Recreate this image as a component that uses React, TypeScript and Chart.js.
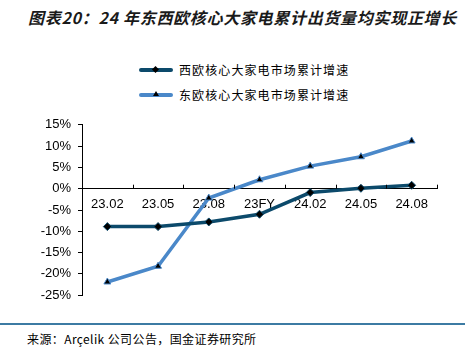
import React, { useEffect, useRef } from "react";
import { Chart, registerables } from "chart.js";

Chart.register(...registerables);

const categories = ["23.02", "23.05", "23.08", "23FY", "24.02", "24.05", "24.08"];
const westEurope = [-8.9, -8.9, -7.8, -6.0, -0.9, 0.1, 0.8];
const eastEurope = [-21.9, -18.2, -2.2, 2.1, 5.3, 7.5, 11.2];
const seriesNames = ["西欧核心大家电市场累计增速", "东欧核心大家电市场累计增速"];
const titleText = "图表20：24 年东西欧核心大家电累计出货量均实现正增长";
const sourceText = "来源：Arçelik 公司公告，国金证券研究所";

const WEST_COLOR = "#0C4A6B";
const EAST_COLOR = "#4A88C9";

const upTicksPlugin = {
  id: "upTicks",
  afterDraw(chart: any) {
    const x = chart.scales.x;
    const y = chart.scales.y;
    const ctx = chart.ctx;
    const zeroY = y.getPixelForValue(0);
    const n = categories.length;
    const step = (x.right - x.left) / n;
    ctx.save();
    ctx.strokeStyle = "#000";
    ctx.lineWidth = 1;
    for (let i = 1; i <= n; i++) {
      const px = Math.round(x.left + step * i) + 0.5;
      ctx.beginPath();
      ctx.moveTo(px, zeroY);
      ctx.lineTo(px, zeroY - 4);
      ctx.stroke();
    }
    ctx.restore();
  },
};

function LegendRow({ color, label, marker }: { color: string; label: string; marker: "diamond" | "triangle" }) {
  return (
    <div style={{ display: "flex", alignItems: "center", height: 25 }}>
      <div style={{ position: "relative", width: 34, height: 4, background: color, borderRadius: 2 }}>
        {marker === "diamond" ? (
          <div style={{ position: "absolute", left: 14, top: -1, width: 5, height: 5, background: "#000", transform: "rotate(45deg)" }} />
        ) : (
          <div style={{ position: "absolute", left: 14, top: -2, width: 0, height: 0, borderLeft: "3px solid transparent", borderRight: "3px solid transparent", borderBottom: "5px solid #000" }} />
        )}
      </div>
      <span style={{ marginLeft: 6, fontSize: 12, letterSpacing: 1.1, color: "#000", fontFamily: "'Noto Sans CJK SC', sans-serif" }}>{label}</span>
    </div>
  );
}

export default function App() {
  const canvasRef = useRef<HTMLCanvasElement | null>(null);

  useEffect(() => {
    if (!canvasRef.current) return;
    const chart = new Chart(canvasRef.current, {
      type: "line",
      data: {
        labels: categories,
        datasets: [
          {
            label: seriesNames[0],
            data: westEurope,
            borderColor: WEST_COLOR,
            backgroundColor: "#000",
            borderWidth: 3.5,
            pointStyle: "rectRot",
            pointRadius: 4,
            pointBackgroundColor: "#000",
            pointBorderColor: WEST_COLOR,
            pointBorderWidth: 1,
            tension: 0,
          },
          {
            label: seriesNames[1],
            data: eastEurope,
            borderColor: EAST_COLOR,
            backgroundColor: "#000",
            borderWidth: 3.5,
            pointStyle: "triangle",
            pointRadius: 4,
            pointBackgroundColor: "#000",
            pointBorderColor: EAST_COLOR,
            pointBorderWidth: 1,
            tension: 0,
          },
        ],
      },
      options: {
        animation: false,
        responsive: false,
        maintainAspectRatio: false,
        layout: { padding: { top: 13, bottom: 12, right: 37, left: 0 } },
        plugins: { legend: { display: false }, tooltip: { enabled: false } },
        scales: {
          x: {
            type: "category",
            position: { y: 0 } as any,
            offset: true,
            grid: { display: false, drawOnChartArea: false, drawTicks: false },
            border: { display: true, color: "#000", width: 1 },
            ticks: {
              padding: 8,
              color: "#000",
              font: { family: "'Liberation Sans', Arial, sans-serif", size: 13 },
              maxRotation: 0,
            },
          },
          y: {
            min: -25,
            max: 15,
            afterFit(scale: any) {
              scale.width = 82;
            },
            grid: { drawOnChartArea: false, drawTicks: true, tickLength: 4, color: "#000" },
            border: { display: true, color: "#000", width: 1 },
            ticks: {
              stepSize: 5,
              padding: 7,
              color: "#000",
              font: { family: "'Liberation Sans', Arial, sans-serif", size: 13 },
              callback: (v: any) => `${v}%`,
            },
          },
        },
      },
      plugins: [upTicksPlugin],
    });
    return () => chart.destroy();
  }, []);

  return (
    <div style={{ position: "absolute", left: 0, top: 0, width: 474, height: 353, background: "#fff", overflow: "hidden" }}>
      <div
        style={{
          position: "absolute",
          left: 28,
          top: 6,
          fontSize: 16,
          fontWeight: "bold",
          fontStyle: "italic",
          letterSpacing: 0.7,
          whiteSpace: "nowrap",
          color: "#1a1a1a",
          fontFamily: "'Noto Sans CJK SC', sans-serif",
          lineHeight: "22px",
        }}
      >
        {titleText}
      </div>
      <div style={{ position: "absolute", left: 139, top: 57 }}>
        <LegendRow color={WEST_COLOR} label={seriesNames[0]} marker="diamond" />
        <LegendRow color={EAST_COLOR} label={seriesNames[1]} marker="triangle" />
      </div>
      <canvas ref={canvasRef} width={474} height={200} style={{ position: "absolute", left: 0, top: 110, width: 474, height: 200 }} />
      <div style={{ position: "absolute", left: 0, top: 323, width: 465, height: 2, background: "#3C7BA3" }} />
      <div
        style={{
          position: "absolute",
          left: 27,
          top: 331,
          fontSize: 12,
          letterSpacing: 0.4,
          whiteSpace: "nowrap",
          color: "#000",
          fontFamily: "'Noto Sans CJK SC', sans-serif",
          lineHeight: "16px",
        }}
      >
        {sourceText}
      </div>
    </div>
  );
}
